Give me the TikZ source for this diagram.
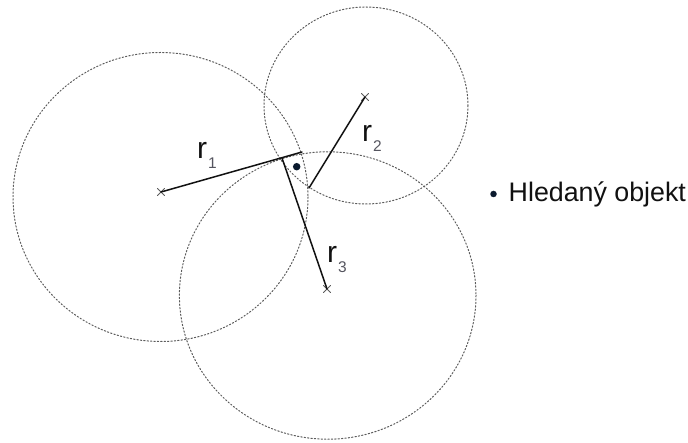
\documentclass[tikz,border=0pt]{standalone}
\usepackage{fontspec}
\setmainfont{Liberation Sans}
\usetikzlibrary{shapes.misc}
\definecolor{trilRing}{HTML}{5C5C5C}
\definecolor{trilInk}{HTML}{111111}
\definecolor{trilSub}{HTML}{55555F}
\definecolor{trilDot}{HTML}{0B1A2E}
\newcommand{\rsub}[1]{\kern1pt{\color{trilSub}\fontsize{15.5}{15.5}\selectfont\raisebox{-10pt}{#1}}}

\begin{document}
\begin{tikzpicture}[x=1pt,y=-1pt,line cap=round,line join=round]
\useasboundingbox[fill=white] (0,0) rectangle (688,443);
\tikzset{ring/.style={draw=trilRing,line width=1pt,dash pattern=on 1.4pt off 2pt},radius/.style={draw=trilInk,line width=1.5pt},station/.style={cross out,draw=trilRing,line width=0.9pt,minimum size=6pt,inner sep=0pt},spot/.style={circle,fill=trilDot,minimum size=7.5pt,inner sep=0pt},rlabel/.style={anchor=base west,inner sep=0pt,text=trilInk,font=\fontsize{30}{30}\selectfont}}
\draw[ring] (160.5,197) ellipse [x radius=147.5,y radius=144.5];
\draw[ring] (366,105.5) ellipse [x radius=102,y radius=98.5];
\draw[ring] (327.7,295.5) ellipse [x radius=148.3,y radius=143.7];
\node[station] (s1) at (161,192) {}; \node[station] (s2) at (365,97) {}; \node[station] (s3) at (327,289) {};
\coordinate (e1) at (302,152); \coordinate (e2) at (309,188); \coordinate (e3) at (282,158);
\draw[radius] (s1.center) -- (e1); \draw[radius] (s2.center) -- (e2); \draw[radius] (s3.center) -- (e3);
\node[rlabel] (r1) at (197,159) {r\rsub{1}};
\node[rlabel] (r2) at (362,142) {r\rsub{2}};
\node[rlabel] (r3) at (327,263) {r\rsub{3}};
\node[spot] (target) at (296.7,166.7) {};
\node[spot,minimum size=6.5pt] (legdot) at (493.5,194) {};
\node[anchor=base west,inner sep=0pt,text=trilInk,font=\fontsize{26.8}{30}\selectfont] (legend) at (508.5,201.7) {Hledaný objekt};
\end{tikzpicture}
\end{document}
